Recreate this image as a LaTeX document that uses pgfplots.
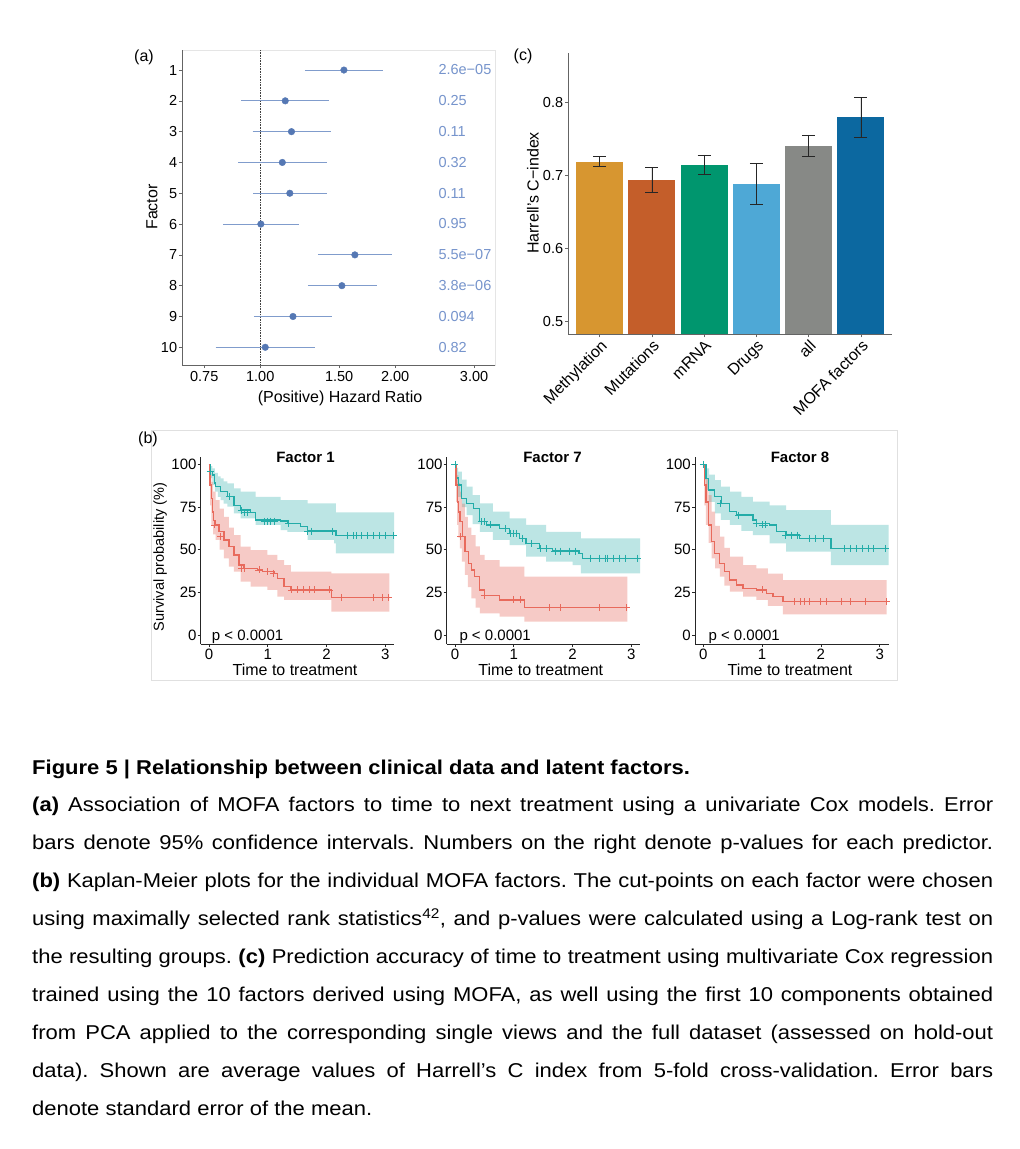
\documentclass[border=0pt]{standalone}
\usepackage{pgfplots}
\pgfplotsset{compat=1.18}
\usepackage{fontspec}
\setmainfont{Liberation Sans}
\newfontfamily\capfont[FakeStretch=1.1]{Liberation Sans}
\definecolor{hrline}{RGB}{128,156,204}
\definecolor{hrpt}{RGB}{85,120,180}
\definecolor{hrtext}{RGB}{118,148,204}
\definecolor{methyl}{RGB}{215,150,48}
\definecolor{mutat}{RGB}{196,94,42}
\definecolor{mrna}{RGB}{0,150,110}
\definecolor{drugs}{RGB}{78,168,214}
\definecolor{allc}{RGB}{135,137,134}
\definecolor{mofa}{RGB}{12,104,160}
\definecolor{kmteal}{RGB}{35,172,168}
\definecolor{kmred}{RGB}{232,106,92}
\definecolor{axgray}{RGB}{100,100,100}
\newcommand{\fs}[1]{\fontsize{#1}{#1}\selectfont}
\pgfplotsset{
  kmaxis/.style={
    anchor=south west, scale only axis, width=193.5pt, height=187.3pt,
    xmin=-0.14, xmax=3.15, ymin=-5.3, ymax=104.5,
    axis x line*=bottom, axis y line*=left,
    axis line style={black!85, line width=0.7pt},
    xtick={0,1,2,3}, ytick={0,25,50,75,100},
    tick align=outside, major tick length=3pt,
    tick style={black!85, line width=0.6pt},
    tick label style={font=\fs{15}},
    xticklabel style={inner sep=2pt},
    yticklabel style={inner sep=1pt},
    /pgf/number format/assume math mode=true,
  },
  kmteal band/.style={fill=kmteal, fill opacity=0.3, draw=none, const plot},
  kmred band/.style={fill=kmred, fill opacity=0.35, draw=none, const plot},
  kmcurve/.style={line width=1.3pt, const plot},
  kmcens/.style={only marks, mark=+, mark size=3.5pt, line width=0.8pt},
}
\begin{document}
\frenchspacing
\begin{tikzpicture}[x=1pt,y=1pt]
\path[use as bounding box, fill=white] (0,0) rectangle (1020,-1149);

% ---------------- Panel (a) ----------------
\draw[black!10, line width=0.6pt] (182.3,-50) rectangle (495,-365);
\begin{axis}[
  at={(182.3pt,-365pt)}, anchor=south west,
  scale only axis, width=312.7pt, height=315pt,
  xmode=log, xmin=0.67, xmax=3.34, xminorticks=false,
  ymin=-10.575, ymax=-0.35,
  axis x line*=bottom, axis y line*=left,
  axis line style={axgray, line width=0.7pt},
  xtick={0.75,1,1.5,2,3}, xticklabels={0.75,1.00,1.50,2.00,3.00},
  ytick={-10,-9,-8,-7,-6,-5,-4,-3,-2,-1},
  yticklabels={10,9,8,7,6,5,4,3,2,1},
  tick align=outside, major tick length=3pt,
  tick style={axgray, line width=0.6pt},
  tick label style={font=\fs{14.5}},
  xticklabel style={inner sep=3.5pt},
  yticklabel style={inner sep=2pt},
]
\addplot[densely dotted, black!75, line width=0.6pt] coordinates {(1,-0.35) (1,-10.575)};
\addplot[hrline, line width=1pt] coordinates {(1.258,-1) (1.877,-1)};
\addplot[hrline, line width=1pt] coordinates {(0.907,-2) (1.427,-2)};
\addplot[hrline, line width=1pt] coordinates {(0.961,-3) (1.437,-3)};
\addplot[hrline, line width=1pt] coordinates {(0.892,-4) (1.406,-4)};
\addplot[hrline, line width=1pt] coordinates {(0.965,-5) (1.406,-5)};
\addplot[hrline, line width=1pt] coordinates {(0.826,-6) (1.222,-6)};
\addplot[hrline, line width=1pt] coordinates {(1.345,-7) (1.969,-7)};
\addplot[hrline, line width=1pt] coordinates {(1.277,-8) (1.823,-8)};
\addplot[hrline, line width=1pt] coordinates {(0.968,-9) (1.445,-9)};
\addplot[hrline, line width=1pt] coordinates {(0.795,-10) (1.324,-10)};
\addplot[only marks, mark=*, mark size=3.3pt, hrpt] coordinates {
 (1.537,-1) (1.137,-2) (1.174,-3) (1.120,-4) (1.164,-5)
 (1.003,-6) (1.626,-7) (1.521,-8) (1.183,-9) (1.026,-10)};
\end{axis}
\begin{scope}[every node/.style={anchor=west, text=hrtext, font=\fs{14.5}, inner sep=0pt}]
\node at (438.3,-70) {2.6e−05};
\node at (438.3,-100.8) {0.25};
\node at (438.3,-131.6) {0.11};
\node at (438.3,-162.4) {0.32};
\node at (438.3,-193.2) {0.11};
\node at (438.3,-224) {0.95};
\node at (438.3,-254.8) {5.5e−07};
\node at (438.3,-285.6) {3.8e−06};
\node at (438.3,-316.4) {0.094};
\node at (438.3,-347.2) {0.82};
\end{scope}
\node[font=\fs{16}] at (144,-57) {(a)};
\node[font=\fs{16}, rotate=90] at (152,-207) {Factor};
\node[font=\fs{16}] at (340,-398) {(Positive) Hazard Ratio};

% ---------------- Panel (c) ----------------
\begin{axis}[
  at={(568.3pt,-334.3pt)}, anchor=south west,
  scale only axis, width=324pt, height=281.3pt,
  xmin=-0.6, xmax=5.6, ymin=0.4827, ymax=0.868,
  axis x line*=bottom, axis y line*=left,
  axis line style={axgray, line width=0.7pt},
  xtick={0,1,2,3,4,5},
  xticklabels={Methylation,Mutations,mRNA,Drugs,all,MOFA factors},
  xticklabel style={rotate=45, anchor=north east, font=\fs{16}, inner sep=1pt},
  ytick={0.5,0.6,0.7,0.8},
  tick align=outside, major tick length=3pt,
  tick style={axgray, line width=0.6pt},
  tick label style={font=\fs{14.5}},
  yticklabel style={inner sep=2pt},
  /pgf/number format/assume math mode=true,
  ybar, bar width=0.9,
  error bars/y dir=both, error bars/y explicit,
  error bars/error bar style={black!85, line width=0.8pt},
  error bars/error mark options={rotate=90, black!85, mark size=6.5pt, line width=0.8pt},
]
\addplot[fill=methyl, draw=none, bar shift=0pt] coordinates {(0,0.7192) +- (0,0.0071)};
\addplot[fill=mutat, draw=none, bar shift=0pt] coordinates {(1,0.6942) +- (0,0.0172)};
\addplot[fill=mrna, draw=none, bar shift=0pt] coordinates {(2,0.7149) +- (0,0.0135)};
\addplot[fill=drugs, draw=none, bar shift=0pt] coordinates {(3,0.6887) +- (0,0.0281)};
\addplot[fill=allc, draw=none, bar shift=0pt] coordinates {(4,0.7410) +- (0,0.0147)};
\addplot[fill=mofa, draw=none, bar shift=0pt] coordinates {(5,0.7801) +- (0,0.0272)};
\end{axis}
\node[font=\fs{16}] at (523,-56) {(c)};
\node[font=\fs{16}, rotate=90] at (533,-193) {Harrell's C−index};

% ---------------- Panel (b) ----------------
\draw[black!12, line width=0.8pt] (151,-430) rectangle (897,-680);
\node[font=\fs{16}] at (148,-439) {(b)};

% Factor 1
\begin{axis}[kmaxis, at={(200.7pt,-644pt)}]
\addplot[kmteal band] coordinates {(0,100) (0.03,99) (0.057,97.6) (0.1,95) (0.15,93) (0.199,91.8) (0.25,90) (0.3125,88.9) (0.426,86) (0.54,84) (0.795,81) (1.22,79) (1.676,77.1) (2.16,71.9) (3.15,71.9)
 (3.15,47.9) (2.16,53.7) (2.13,55.7) (1.676,60.5) (1.335,61.5) (1.22,64.5) (0.795,68.4) (0.54,71.3) (0.426,75.2) (0.3125,77) (0.25,79) (0.199,81) (0.15,84) (0.1,87.9) (0.057,92) (0.03,100) (0,100)} --cycle;
\addplot[kmred band] coordinates {(0,100) (0.02,95) (0.04,89.8) (0.07,84) (0.114,79) (0.18,74) (0.256,69.3) (0.34,63) (0.426,58.6) (0.54,51.8) (0.71,49.8) (0.994,46.9) (1.165,43.9) (1.278,41) (1.392,37.1) (2.08,36.1) (3.07,36.1)
 (3.07,13.7) (2.08,20.5) (1.392,20.5) (1.278,22.5) (1.165,26.4) (0.994,28.3) (0.71,31.3) (0.54,37.1) (0.426,40) (0.34,44.9) (0.256,50) (0.18,55.7) (0.114,59) (0.07,64.5) (0.04,76) (0.02,100) (0,100)} --cycle;
\addplot[kmteal, kmcurve] coordinates {(0,100) (0.03,96) (0.057,93.7) (0.09,89) (0.114,86.9) (0.199,84) (0.3125,81) (0.426,76) (0.54,73.2) (0.71,71.9) (0.795,67.4) (1.22,66.8) (1.335,65.4) (1.5625,63.5) (1.676,60.9) (2.16,58.2) (3.13,58.2)};
\addplot[kmred, kmcurve] coordinates {(0,100) (0.01,95) (0.02,88) (0.04,80) (0.06,72) (0.08,67) (0.114,64.5) (0.17,60.5) (0.256,55.7) (0.341,51.8) (0.426,46.9) (0.511,41) (0.597,39.1) (0.824,38.1) (0.909,37.1) (1.108,36.1) (1.165,33.2) (1.278,28.3) (1.392,26.4) (2.08,22.1) (3.07,22.1)};
\addplot[kmteal, kmcens] coordinates {(0.02,96) (0.35,81) (0.55,73.2) (0.6,71.9) (0.65,71.9) (0.95,66.8) (1.0,66.8) (1.05,66.8) (1.12,66.8) (1.35,65.4) (1.68,60.9) (1.75,60.9) (2.1,60.9) (2.35,58.2) (2.45,58.2) (2.5,58.2) (2.6,58.2) (2.7,58.2) (2.8,58.2) (2.9,58.2) (3.0,58.2) (3.13,58.2)};
\addplot[kmred, kmcens] coordinates {(0.1,64.5) (0.2,58) (0.55,39.1) (0.6,39.1) (0.85,38.1) (1.0,37.1) (1.1,36.1) (1.4,26.4) (1.5,26.4) (1.6,26.4) (1.7,26.4) (1.8,26.4) (2.05,26.4) (2.25,22.1) (2.8,22.1) (2.95,22.1) (3.05,22.1)};
\end{axis}

% Factor 7
\begin{axis}[kmaxis, at={(446.7pt,-644pt)}]
\addplot[kmteal band] coordinates {(0,100) (0.03,98) (0.056,95.7) (0.12,91) (0.197,86.9) (0.3,82) (0.422,77.1) (0.647,72.3) (0.93,68.4) (1.21,64.5) (1.55,60.5) (2.0,60.5) (2.14,56.6) (3.15,56.6)
 (3.15,36.1) (2.14,41) (2.0,43) (1.55,45.9) (1.21,52.7) (0.93,55.7) (0.647,60.5) (0.422,65) (0.3,70.3) (0.197,75) (0.12,81) (0.056,88) (0.03,100) (0,100)} --cycle;
\addplot[kmred band] coordinates {(0,100) (0.02,97) (0.039,93.7) (0.06,89) (0.084,84) (0.12,77) (0.169,69.3) (0.22,63) (0.281,58.6) (0.35,52) (0.422,46.9) (0.506,43.9) (0.76,40) (1.18,34.2) (2.93,34.2)
 (2.93,7.8) (1.18,10.7) (0.76,12.7) (0.506,12.7) (0.422,16) (0.35,21.5) (0.281,28) (0.22,35.2) (0.169,43) (0.12,50.8) (0.084,57) (0.06,64.5) (0.039,78) (0.02,100) (0,100)} --cycle;
\addplot[kmteal, kmcurve] coordinates {(0,100) (0.03,92) (0.056,87.9) (0.113,80) (0.197,77.1) (0.31,74.2) (0.422,66.4) (0.535,64.5) (0.76,62.5) (0.93,59.6) (1.097,56.6) (1.21,53.7) (1.435,50.8) (1.66,49.2) (2.11,47.9) (2.17,45) (3.12,45)};
\addplot[kmred, kmcurve] coordinates {(0,100) (0.02,88) (0.039,78) (0.06,72) (0.084,66.4) (0.129,57.6) (0.169,48.8) (0.225,42) (0.281,38.1) (0.338,34.2) (0.422,26.4) (0.506,23) (0.76,20.5) (1.18,16) (2.95,16)};
\addplot[kmteal, kmcens] coordinates {(0.0,100) (0.45,66.4) (0.5,66.4) (0.6,64.5) (0.85,62.5) (0.95,59.6) (1.0,59.6) (1.05,59.6) (1.15,56.6) (1.3,53.7) (1.45,50.8) (1.55,50.8) (1.7,49.2) (1.8,49.2) (1.95,49.2) (2.05,49.2) (2.3,45) (2.45,45) (2.55,45) (2.6,45) (2.7,45) (2.8,45) (2.9,45) (3.1,45)};
\addplot[kmred, kmcens] coordinates {(0.1,57.6) (0.5,23) (1.0,20.5) (1.12,20.5) (1.6,16) (1.8,16) (2.45,16) (2.92,16)};
\end{axis}

% Factor 8
\begin{axis}[kmaxis, at={(695pt,-644pt)}]
\addplot[kmteal band] coordinates {(0,100) (0.02,99) (0.045,97.6) (0.1,94) (0.197,90.8) (0.3,87) (0.451,84) (0.65,81) (0.846,78.1) (1.128,76) (1.41,73.2) (2.17,64.5) (3.15,64.5)
 (3.15,41) (2.17,48.8) (1.41,53.7) (1.128,58.6) (0.846,61) (0.65,64.5) (0.451,67.5) (0.3,71.3) (0.197,78) (0.1,84.9) (0.045,91) (0.02,100) (0,100)} --cycle;
\addplot[kmred band] coordinates {(0,100) (0.02,96) (0.045,91.8) (0.09,82) (0.141,72.3) (0.2,64) (0.282,57.6) (0.36,51) (0.451,45.9) (0.677,41) (0.902,39.1) (1.1,36) (1.354,32.2) (3.12,32.2)
 (3.12,12.1) (1.354,17) (1.1,20.5) (0.902,22.5) (0.677,25.4) (0.451,29) (0.36,34.2) (0.282,39) (0.2,44.9) (0.141,54) (0.09,64.5) (0.045,76) (0.02,100) (0,100)} --cycle;
\addplot[kmteal, kmcurve] coordinates {(0,100) (0.045,91.8) (0.085,84.9) (0.197,81) (0.31,77.1) (0.451,72.3) (0.564,70.3) (0.846,67.4) (0.902,65.4) (1.128,64.5) (1.241,60.5) (1.41,58.6) (1.636,56.6) (2.17,50.8) (3.14,50.8)};
\addplot[kmred, kmcurve] coordinates {(0,100) (0.02,88) (0.045,78) (0.085,64.5) (0.141,54.7) (0.197,47.9) (0.282,42) (0.367,37.1) (0.451,32.2) (0.564,29.3) (0.677,27.3) (0.902,26.4) (1.072,24.4) (1.184,22.5) (1.354,19.5) (3.12,19.5)};
\addplot[kmteal, kmcens] coordinates {(0.0,100) (0.3,77.1) (0.6,70.3) (0.9,65.4) (1.0,64.5) (1.05,64.5) (1.4,58.6) (1.5,58.6) (1.6,58.6) (1.8,56.6) (1.9,56.6) (2.05,56.6) (2.4,50.8) (2.5,50.8) (2.6,50.8) (2.7,50.8) (2.8,50.8) (2.9,50.8) (3.1,50.8)};
\addplot[kmred, kmcens] coordinates {(1.0,26.4) (1.55,19.5) (1.65,19.5) (1.72,19.5) (1.8,19.5) (2.0,19.5) (2.1,19.5) (2.35,19.5) (2.5,19.5) (2.75,19.5) (3.12,19.5)};
\end{axis}

\node[font=\fs{15}\bfseries] at (305.5,-457) {Factor 1};
\node[font=\fs{15}\bfseries] at (552.5,-457) {Factor 7};
\node[font=\fs{15}\bfseries] at (800,-457) {Factor 8};
\node[font=\fs{15}, anchor=west, inner sep=0pt] at (211.7,-636.7) {p < 0.0001};
\node[font=\fs{15}, anchor=west, inner sep=0pt] at (459.3,-636.7) {p < 0.0001};
\node[font=\fs{15}, anchor=west, inner sep=0pt] at (708.3,-636.7) {p < 0.0001};
\node[font=\fs{16}] at (295,-669.5) {Time to treatment};
\node[font=\fs{16}] at (540.8,-669.5) {Time to treatment};
\node[font=\fs{16}] at (790,-669.5) {Time to treatment};
\node[font=\fs{14.5}, rotate=90] at (160,-557) {Survival probability (\%)};

% ---------------- Caption ----------------
\begin{scope}[every node/.style={anchor=base west, inner sep=0pt, font=\capfont\fs{20}}]
\node at (32,-774) {\bfseries Figure 5 | Relationship between clinical data and latent factors.};
\node at (32,-811.9) {\makebox[961pt][s]{\textbf{(a)} Association of MOFA factors to time to next treatment using a univariate Cox models. Error}};
\node at (32,-849.8) {\makebox[961pt][s]{bars denote 95\% confidence intervals. Numbers on the right denote p-values for each predictor.}};
\node at (32,-887.7) {\makebox[961pt][s]{\textbf{(b)} Kaplan-Meier plots for the individual MOFA factors. The cut-points on each factor were chosen}};
\node at (32,-925.6) {\makebox[961pt][s]{using maximally selected rank statistics\textsuperscript{42}, and p-values were calculated using a Log-rank test on}};
\node at (32,-963.5) {\makebox[961pt][s]{the resulting groups. \textbf{(c)} Prediction accuracy of time to treatment using multivariate Cox regression}};
\node at (32,-1001.4) {\makebox[961pt][s]{trained using the 10 factors derived using MOFA, as well using the first 10 components obtained}};
\node at (32,-1039.3) {\makebox[961pt][s]{from PCA applied to the corresponding single views and the full dataset (assessed on hold-out}};
\node at (32,-1077.2) {\makebox[961pt][s]{data). Shown are average values of Harrell’s C index from 5-fold cross-validation. Error bars}};
\node at (32,-1115.1) {denote standard error of the mean.};
\end{scope}
\end{tikzpicture}
\end{document}
